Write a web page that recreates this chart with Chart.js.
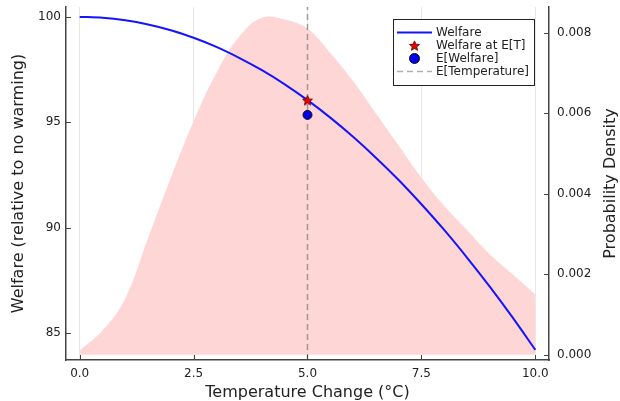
<!DOCTYPE html>
<html>
<head>
<meta charset="utf-8">
<script src="https://cdn.jsdelivr.net/npm/chart.js@4"></script>
<style>
  html, body { margin: 0; padding: 0; background: #fff; }
  #wrap { width: 620px; height: 401px; }
</style>
</head>
<body>
<div id="wrap"><canvas id="chart"></canvas></div>
<script>
// welfare curve
const temps = [0, 0.5, 1, 1.5, 2, 2.5, 3, 3.5, 4, 4.5, 5, 5.5, 6, 6.5, 7, 7.5, 8, 8.5, 9, 9.5, 10];
const welfare = [100, 99.96, 99.84, 99.64, 99.37, 99.01, 98.58, 98.06, 97.47, 96.8, 96.05, 95.22, 94.31, 93.32, 92.26, 91.11, 89.89, 88.58, 87.2, 85.74, 84.2];

// temperature density
const densityTemps = [0, 0.5, 1, 1.5, 2, 2.5, 3, 3.5, 4, 4.5, 5, 5.5, 6, 6.5, 7, 7.5, 8, 8.5, 9, 9.5, 10];
const density = [0.0001, 0.0006, 0.0014, 0.0029, 0.0044, 0.0058, 0.0070, 0.0079, 0.00837, 0.00833, 0.0081, 0.0075, 0.0068, 0.0060, 0.0052, 0.0044, 0.0037, 0.0031, 0.0025, 0.0020, 0.0015];

// summary points
const meanTemp = 5;
const welfareAtMean = 96.05;
const expectedWelfare = 95.35;

const xTicks = [0, 2.5, 5, 7.5, 10];
const welfareTicks = [85, 90, 95, 100];
const densityTicks = [0, 0.002, 0.004, 0.006, 0.008];
const legendOrder = ['Welfare', 'Welfare at E[T]', 'E[Welfare]', 'E[Temperature]'];

const xMin = -0.3, xMax = 10.3;
const wMin = 83.72, wMax = 100.47;
const dMin = -0.00013, dMax = 0.00864;

const FONT = "'DejaVu Sans', sans-serif";
const AXIS = '#444';
const TEXT = '#222';

// filled star marker
function makeStar(r) {
  const c = document.createElement('canvas');
  const s = Math.ceil(r * 2 + 2);
  c.width = s; c.height = s;
  const g = c.getContext('2d');
  g.beginPath();
  for (let i = 0; i < 10; i++) {
    const rr = i % 2 === 0 ? r : r * 0.45;
    const a = -Math.PI / 2 + i * Math.PI / 5;
    const px = s / 2 + rr * Math.cos(a), py = s / 2 + 0.6 + rr * Math.sin(a);
    i === 0 ? g.moveTo(px, py) : g.lineTo(px, py);
  }
  g.closePath();
  g.fillStyle = '#ee0000';
  g.fill();
  g.lineWidth = 0.9;
  g.strokeStyle = '#6b0000';
  g.stroke();
  return c;
}
const star = makeStar(5.2);

// ticks pointing into the plot, like the original
const innerTicks = {
  id: 'innerTicks',
  afterDraw(chart) {
    const { ctx, chartArea: a, scales } = chart;
    ctx.save();
    ctx.strokeStyle = AXIS;
    ctx.lineWidth = 1;
    ctx.beginPath();
    scales.x.ticks.forEach(t => {
      const px = Math.round(scales.x.getPixelForValue(t.value)) + 0.5;
      ctx.moveTo(px, a.bottom); ctx.lineTo(px, a.bottom - 5);
    });
    scales.y.ticks.forEach(t => {
      const py = Math.round(scales.y.getPixelForValue(t.value)) + 0.5;
      ctx.moveTo(a.left, py); ctx.lineTo(a.left + 5, py);
    });
    scales.y2.ticks.forEach(t => {
      const py = Math.round(scales.y2.getPixelForValue(t.value)) + 0.5;
      ctx.moveTo(a.right, py); ctx.lineTo(a.right - 5, py);
    });
    ctx.stroke();

    // right axis title reads bottom to top
    ctx.translate(611, (a.top + a.bottom) / 2);
    ctx.rotate(-Math.PI / 2);
    ctx.font = '16px ' + FONT;
    ctx.fillStyle = TEXT;
    ctx.textAlign = 'center';
    ctx.textBaseline = 'middle';
    ctx.fillText('Probability Density', 0, 0);
    ctx.restore();
  }
};

// legend box in the upper right corner
const boxLegend = {
  id: 'boxLegend',
  afterDraw(chart) {
    const ctx = chart.ctx;
    const x0 = 393.5, y0 = 19.5, w = 141, h = 66;
    const rows = [32.5, 45.5, 58.5, 71.5];
    const sx0 = 397, sx1 = 432, sxm = 414.5;
    ctx.save();
    ctx.fillStyle = '#fff';
    ctx.fillRect(x0, y0, w, h);
    ctx.strokeStyle = TEXT;
    ctx.lineWidth = 1;
    ctx.strokeRect(x0, y0, w, h);
    // line
    ctx.strokeStyle = '#1414ff'; ctx.lineWidth = 2;
    ctx.beginPath(); ctx.moveTo(sx0, rows[0]); ctx.lineTo(sx1, rows[0]); ctx.stroke();
    // star
    ctx.drawImage(star, sxm - star.width / 2, rows[1] - star.height / 2);
    // circle
    ctx.beginPath(); ctx.arc(sxm, rows[2], 5, 0, Math.PI * 2);
    ctx.fillStyle = '#0000ee'; ctx.fill();
    ctx.strokeStyle = '#111'; ctx.lineWidth = 1; ctx.stroke();
    // dashed
    ctx.strokeStyle = 'rgba(120,120,120,0.6)'; ctx.lineWidth = 1.5;
    ctx.setLineDash([6, 4]);
    ctx.beginPath(); ctx.moveTo(sx0, rows[3]); ctx.lineTo(sx1, rows[3]); ctx.stroke();
    ctx.setLineDash([]);
    ctx.font = '12px ' + FONT;
    ctx.fillStyle = TEXT;
    ctx.textBaseline = 'middle';
    legendOrder.forEach((l, i) => ctx.fillText(l, 436, rows[i] + 0.5));
    ctx.restore();
  }
};

// fixed scale boxes so the plot area sits where the original one does
const fixBox = size => s => {
  if (s.isHorizontal()) s.height = size; else s.width = size;
  s.paddingTop = 0; s.paddingBottom = 0; s.paddingLeft = 0; s.paddingRight = 0;
};

const ctx = document.getElementById('chart').getContext('2d');
new Chart(ctx, {
  type: 'line',
  data: {
    datasets: [
      {
        label: 'E[Welfare]',
        data: [{ x: meanTemp, y: expectedWelfare }],
        yAxisID: 'y',
        showLine: false,
        pointRadius: 4.5,
        pointBackgroundColor: '#0000ee',
        pointBorderColor: '#111',
        pointBorderWidth: 1,
        order: 0,
      },
      {
        label: 'Welfare at E[T]',
        data: [{ x: meanTemp, y: welfareAtMean }],
        yAxisID: 'y',
        showLine: false,
        pointStyle: star,
        pointRadius: 6,
        order: 0,
      },
      {
        label: 'Welfare',
        data: temps.map((t, i) => ({ x: t, y: welfare[i] })),
        yAxisID: 'y',
        borderColor: '#1414ff',
        borderWidth: 2,
        pointRadius: 0,
        cubicInterpolationMode: 'monotone',
        order: 1,
      },
      {
        label: 'E[Temperature]',
        data: [{ x: meanTemp, y: wMin }, { x: meanTemp, y: wMax }],
        yAxisID: 'y',
        borderColor: 'rgba(120,120,120,0.7)',
        borderWidth: 1.5,
        borderDash: [6, 4],
        pointRadius: 0,
        order: 2,
      },
      {
        label: 'Density',
        data: densityTemps.map((t, i) => ({ x: t, y: density[i] })),
        yAxisID: 'y2',
        borderWidth: 0,
        borderColor: 'rgba(0,0,0,0)',
        backgroundColor: '#ffd6d6',
        fill: 'origin',
        pointRadius: 0,
        tension: 0.4,
        order: 3,
      },
    ]
  },
  options: {
    responsive: true,
    maintainAspectRatio: false,
    animation: false,
    layout: { autoPadding: false, padding: { top: 7, left: 0, right: 0, bottom: 0 } },
    plugins: {
      legend: { display: false },
      tooltip: { enabled: false },
    },
    scales: {
      x: {
        type: 'linear',
        min: xMin,
        max: xMax,
        afterBuildTicks: s => { s.ticks = xTicks.map(v => ({ value: v })); },
        afterFit: fixBox(41),
        grid: { display: true, color: 'rgba(0,0,0,0.09)', drawTicks: false },
        border: { display: true, color: AXIS, width: 1.5 },
        ticks: {
          padding: 7,
          color: TEXT,
          font: { family: FONT, size: 12 },
          callback: v => v.toFixed(1),
        },
        title: {
          display: true,
          text: 'Temperature Change (°C)',
          color: TEXT,
          font: { family: FONT, size: 16 },
          padding: { top: 0, bottom: -1 },
        },
      },
      y: {
        position: 'left',
        min: wMin,
        max: wMax,
        afterBuildTicks: s => { s.ticks = welfareTicks.map(v => ({ value: v })); },
        afterFit: fixBox(66),
        grid: { display: false, drawTicks: false },
        border: { display: true, color: AXIS, width: 1.5 },
        ticks: {
          padding: 5,
          color: TEXT,
          font: { family: FONT, size: 12 },
          callback: v => String(v),
        },
        title: {
          display: true,
          text: 'Welfare (relative to no warming)',
          color: TEXT,
          font: { family: FONT, size: 16 },
          padding: { top: 9, bottom: 0 },
        },
      },
      y2: {
        position: 'right',
        min: dMin,
        max: dMax,
        afterBuildTicks: s => { s.ticks = densityTicks.map(v => ({ value: v })); },
        afterFit: fixBox(71),
        grid: { display: false, drawTicks: false },
        border: { display: true, color: AXIS, width: 1.5 },
        ticks: {
          padding: 8,
          color: TEXT,
          font: { family: FONT, size: 12 },
          callback: v => v.toFixed(3),
        },
        title: { display: false },
      },
    },
  },
  plugins: [innerTicks, boxLegend],
});
</script>
</body>
</html>
